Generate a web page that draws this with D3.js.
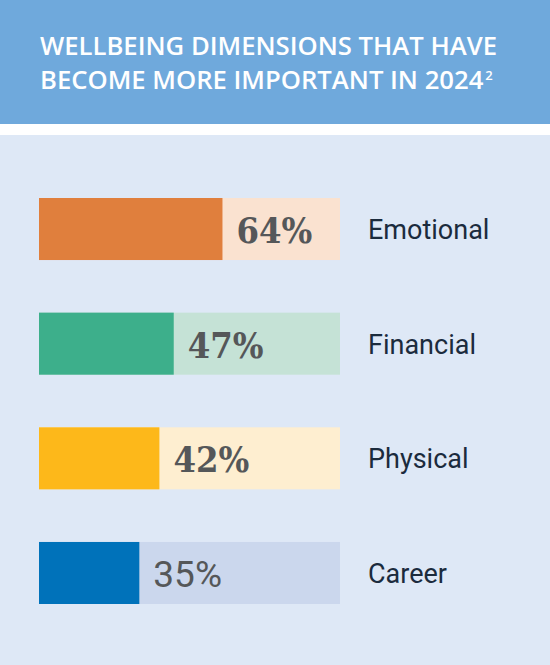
<!DOCTYPE html>
<html>
<head>
<meta charset="utf-8">
<script src="https://cdn.jsdelivr.net/npm/d3@7/dist/d3.min.js"></script>
<style>
  html, body { margin: 0; padding: 0; background: #ffffff; }
  svg { display: block; }
</style>
</head>
<body>
<svg id="chart" width="550" height="665"></svg>
<script>
// ---- data ----
const titleLines = ["WELLBEING DIMENSIONS THAT HAVE", "BECOME MORE IMPORTANT IN 2024"];
const titleNote = "2";
const categories = ["Emotional", "Financial", "Physical", "Career"];
const values = [64, 47, 42, 35];
const valueLabels = ["64%", "47%", "42%", "35%"];
const fillColors = ["#E07F3D", "#3DAF8B", "#FDB81A", "#0072BA"];
const trackColors = ["#FAE2D0", "#C5E2D6", "#FEEED0", "#CBD7ED"];
const trackMax = 105;

const W = 550, H = 665;
const svg = d3.select("#chart");

// backgrounds
svg.append("rect").attr("x", 0).attr("y", 0).attr("width", W).attr("height", 124).attr("fill", "#6FA9DC");
svg.append("rect").attr("x", 0).attr("y", 124).attr("width", W).attr("height", 11).attr("fill", "#FFFFFF");
svg.append("rect").attr("x", 0).attr("y", 135).attr("width", W).attr("height", H - 135).attr("fill", "#DEE8F6");

// title
const title = svg.append("g");
const tl = title.selectAll("text.t").data(titleLines).join("text")
  .attr("class", "t")
  .attr("x", 40)
  .attr("y", (d, i) => 54.5 + i * 34)
  .attr("fill", "#FFFFFF")
  .style("font-family", "'Open Sans', sans-serif")
  .style("font-weight", 600)
  .style("font-size", "24px")
  .text(d => d);
// fit the first line to the reference width
const l1 = tl.filter((d, i) => i === 0).node();
const w1 = l1.getComputedTextLength();
const scaleF = 457 / w1;
tl.style("font-size", (24 * scaleF).toFixed(2) + "px");
// superscript on last line
const last = tl.filter((d, i) => i === titleLines.length - 1);
last.append("tspan")
  .attr("dx", 2)
  .attr("dy", -9)
  .style("font-size", "13px")
  .text(titleNote);

// scales
const x = d3.scaleLinear().domain([0, trackMax]).range([39, 340]);
const y = d3.scaleBand().domain(categories).range([198, 604]).paddingInner(0.459).paddingOuter(0);

const rows = svg.append("g").selectAll("g.row")
  .data(categories.map((c, i) => ({ c, v: values[i], lbl: valueLabels[i], fill: fillColors[i], track: trackColors[i], i })))
  .join("g").attr("class", "row");

rows.append("rect")
  .attr("x", x(0))
  .attr("y", d => y(d.c))
  .attr("width", x(trackMax) - x(0))
  .attr("height", y.bandwidth())
  .attr("fill", d => d.track);

rows.append("rect")
  .attr("x", x(0))
  .attr("y", d => y(d.c))
  .attr("width", d => x(d.v) - x(0))
  .attr("height", y.bandwidth())
  .attr("fill", d => d.fill);

rows.append("text")
  .attr("x", d => x(d.v) + 14)
  .attr("y", d => y(d.c) + y.bandwidth() / 2 + 14)
  .attr("fill", "#555759")
  .style("font-family", d => d.i < 3 ? "'DejaVu Serif Condensed', 'DejaVu Serif', serif" : "Roboto, sans-serif")
  .style("font-weight", d => d.i < 3 ? 700 : 400)
  .style("font-size", d => d.i < 3 ? "36px" : "37px")
  .text(d => d.lbl);

rows.append("text")
  .attr("x", 368)
  .attr("y", d => y(d.c) + y.bandwidth() / 2 + 10)
  .attr("fill", "#1B2B3D")
  .style("font-family", "Roboto, sans-serif")
  .style("font-weight", 400)
  .style("font-size", "27px")
  .text(d => d.c);
</script>
</body>
</html>
